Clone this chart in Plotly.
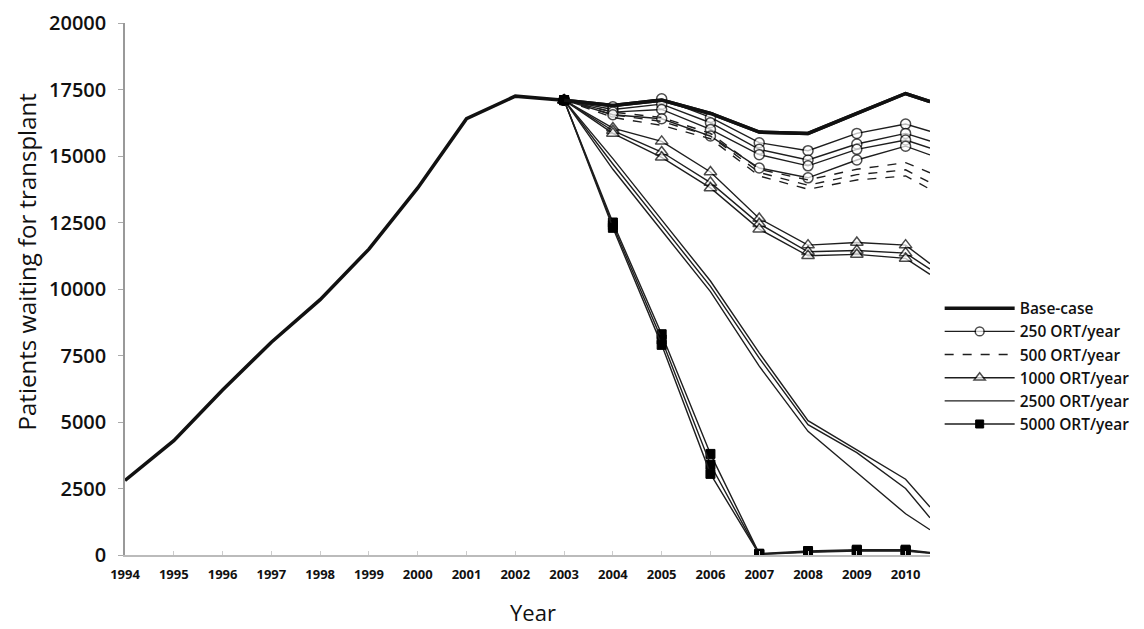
import plotly.graph_objects as go

# ---------------- data ----------------
hist_years = [1994, 1995, 1996, 1997, 1998, 1999, 2000, 2001, 2002, 2003]
hist_values = [2800, 4300, 6200, 8000, 9600, 11500, 13800, 16400, 17250, 17100]

proj_years = [2003, 2004, 2005, 2006, 2007, 2008, 2009, 2010, 2010.5]

base_case = [17100, 16900, 17100, 16600, 15900, 15850, 16600, 17350, 17050]

ort_250 = [
    [17100, 16850, 17150, 16450, 15500, 15200, 15850, 16200, 15930],
    [17100, 16750, 16950, 16250, 15250, 14850, 15450, 15850, 15560],
    [17100, 16650, 16750, 16000, 15050, 14630, 15250, 15600, 15300],
    [17100, 16550, 16400, 15750, 14550, 14180, 14850, 15370, 15040],
]
ort_500 = [
    [17100, 16650, 16450, 15850, 14500, 14100, 14500, 14750, 14370],
    [17100, 16550, 16300, 15750, 14380, 13900, 14300, 14480, 14000],
    [17100, 16450, 16150, 15650, 14250, 13750, 14100, 14250, 13750],
]
ort_1000 = [
    [17100, 16050, 15550, 14400, 12650, 11650, 11750, 11650, 10950],
    [17100, 15950, 15150, 14000, 12450, 11400, 11450, 11350, 10750],
    [17100, 15850, 14950, 13800, 12250, 11250, 11300, 11150, 10550],
]
ort_2500 = [
    [17100, 14900, 12600, 10300, 7600, 5050, 3950, 2850, 1800],
    [17100, 14700, 12400, 10100, 7400, 4900, 3850, 2500, 1400],
    [17100, 14500, 12200, 9900, 7100, 4650, 3100, 1550, 950],
]
ort_5000 = [
    [17100, 12500, 8300, 3800, 50, 150, 200, 200, 100],
    [17100, 12400, 8100, 3400, 30, 120, 170, 170, 80],
    [17100, 12300, 7900, 3050, 20, 100, 150, 150, 60],
]

x_tick_labels = [str(y) for y in range(1994, 2011)]
y_tick_values = [0, 2500, 5000, 7500, 10000, 12500, 15000, 17500, 20000]

# ---------------- figure ----------------
INK = "#111111"
FONT = "Open Sans"
fig = go.Figure()

groups = [
    ("250 ORT/year", ort_250, "circle", "solid"),
    ("500 ORT/year", ort_500, None, "dash"),
    ("1000 ORT/year", ort_1000, "triangle-up", "solid"),
    ("2500 ORT/year", ort_2500, None, "solid"),
    ("5000 ORT/year", ort_5000, "square", "solid"),
]

fig.add_trace(go.Scatter(
    x=hist_years + proj_years[1:], y=hist_values + base_case[1:],
    mode="lines", name="Base-case", legendgroup="base",
    line=dict(color=INK, width=3.5),
))

n = len(proj_years)
for name, series_list, symbol, dash in groups:
    for i, series in enumerate(series_list):
        kw = dict(
            x=proj_years, y=series, name=name, legendgroup=name,
            showlegend=(i == 0),
            line=dict(color="#1e1e1e", width=1.4, dash=dash),
        )
        if symbol is None:
            kw["mode"] = "lines"
        else:
            kw["mode"] = "lines+markers"
            if symbol == "square":
                kw["marker"] = dict(symbol="square", size=[9] * (n - 1) + [0],
                                    color="black", opacity=1,
                                    line=dict(color="black", width=1))
            elif symbol == "triangle-up":
                kw["marker"] = dict(symbol=symbol, size=[11] * (n - 1) + [0], color="white",
                                    line=dict(color="black", width=1.5))
            else:
                kw["marker"] = dict(symbol=symbol, size=[10] * (n - 1) + [0], color="white",
                                    line=dict(color="black", width=1.5))
        fig.add_trace(go.Scatter(**kw))

fig.add_trace(go.Scatter(
    x=proj_years, y=base_case, mode="lines", showlegend=False,
    legendgroup="base", line=dict(color=INK, width=3.5), hoverinfo="skip",
))

# page body has an 8px margin, so the figure is offset by 8px
fig.update_layout(
    width=1144, height=629,
    margin=dict(l=117, r=222, t=15, b=82),
    paper_bgcolor="white", plot_bgcolor="white",
    font=dict(family=FONT, color="#111"),
    showlegend=True,
    legend=dict(
        x=1.012, y=0.495, xanchor="left", yanchor="top", xref="paper", yref="paper",
        font=dict(family=FONT, size=15.5, weight=600, color="#111"),
        itemwidth=70, tracegroupgap=0, traceorder="normal",
        bgcolor="rgba(0,0,0,0)",
    ),
    annotations=[
        dict(text="Patients waiting for transplant", textangle=-90,
             xref="paper", yref="paper", x=0, y=0.55, xanchor="center", yanchor="middle",
             xshift=-99, showarrow=False,
             font=dict(family=FONT, size=24, color="#111")),
        dict(text="Year", xref="paper", yref="paper", x=0.507, y=0, xanchor="center",
             yanchor="middle", yshift=-57, showarrow=False,
             font=dict(family=FONT, size=22, color="#111")),
    ],
)

fig.update_xaxes(
    range=[1994, 2010.5], automargin=False,
    tickmode="array", tickvals=list(range(1994, 2011)), ticktext=x_tick_labels,
    showgrid=False, zeroline=False,
    showline=True, linecolor="#bbbbbb", linewidth=1.5,
    ticks="inside", ticklen=4, tickcolor="#cccccc",
    ticklabelstandoff=7, ticklabeloverflow="allow",
    tickfont=dict(family=FONT, size=13, weight=700, color="#111"),
)
fig.update_yaxes(
    range=[0, 20000], automargin=False,
    tickmode="array", tickvals=y_tick_values, ticktext=[str(v) for v in y_tick_values],
    showgrid=False, zeroline=False,
    showline=True, linecolor="#999999", linewidth=1.5,
    ticks="outside", ticklen=5, tickcolor="#aaaaaa",
    ticklabelstandoff=8, ticklabeloverflow="allow",
    tickfont=dict(family=FONT, size=20, weight=600, color="#111"),
)

fig.write_html("out.html")
